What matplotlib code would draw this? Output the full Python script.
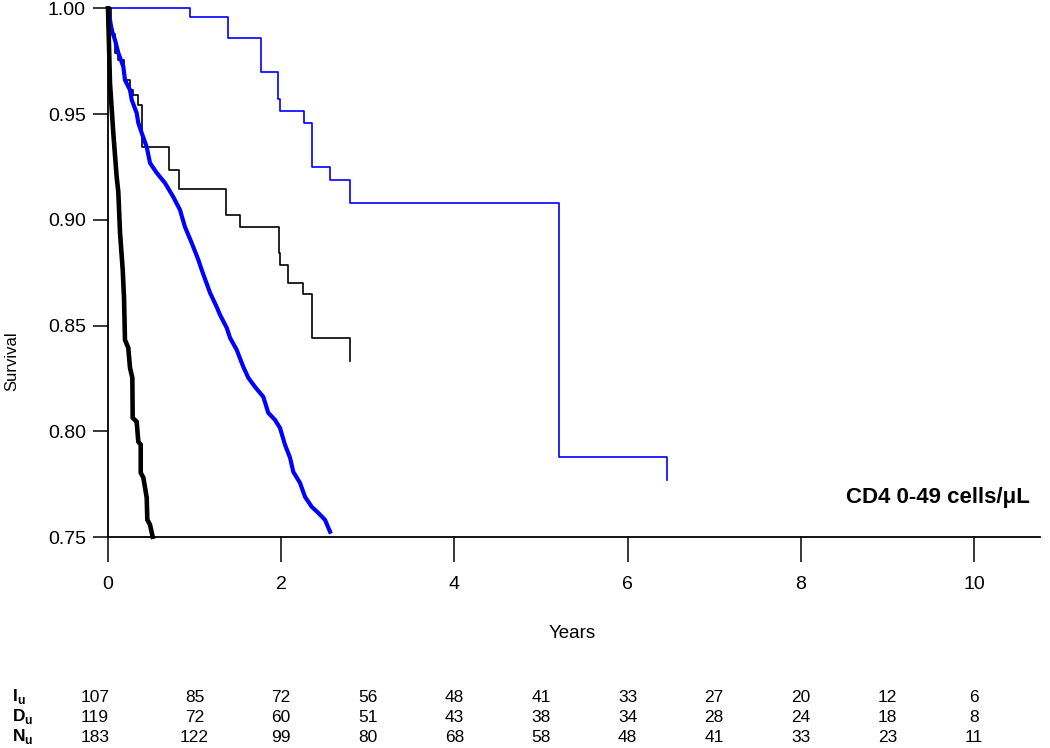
import matplotlib
matplotlib.use("Agg")
import matplotlib.pyplot as plt
from matplotlib.transforms import blended_transform_factory

plt.rcParams['font.family'] = ['Liberation Sans', 'DejaVu Sans']
plt.rcParams['mathtext.fontset'] = 'custom'
plt.rcParams['mathtext.rm'] = 'Liberation Sans'
plt.rcParams['mathtext.bf'] = 'Liberation Sans:bold'

# ---- data ----
# thin blue step curve
blue_thin_t = [0.0, 0.95, 1.39, 1.77, 1.96, 1.99, 2.26, 2.36, 2.56, 2.79, 5.21, 6.46]
blue_thin_s = [1.0, 0.9957, 0.9858, 0.9698, 0.957, 0.9513, 0.9457, 0.925, 0.919, 0.908, 0.788, 0.777]
blue_thin_end = 6.46

# thin black step curve
black_thin_t = [0.0, 0.03, 0.06, 0.08, 0.12, 0.18, 0.25, 0.29, 0.35, 0.39, 0.71, 0.82,
                1.36, 1.52, 1.97, 1.99, 2.08, 2.25, 2.36, 2.79]
black_thin_s = [1.0, 0.99, 0.988, 0.9787, 0.9756, 0.966, 0.9614, 0.959, 0.9543, 0.9346,
                0.9236, 0.9145, 0.9023, 0.8968, 0.8842, 0.8787, 0.870, 0.8647, 0.8442, 0.8331]
black_thin_end = 2.79

# thick black curve
black_thick_t = [0.0, 0.023, 0.061, 0.100, 0.119, 0.139, 0.170, 0.185, 0.196, 0.234, 0.254,
                 0.281, 0.285, 0.331, 0.350, 0.378, 0.378, 0.408, 0.447, 0.454, 0.485, 0.516]
black_thick_s = [1.0, 0.9647, 0.9411, 0.9203, 0.9132, 0.8938, 0.8763, 0.8630, 0.8432, 0.8395,
                 0.8300, 0.8253, 0.8064, 0.8045, 0.7951, 0.7936, 0.7804, 0.7781, 0.7686,
                 0.7582, 0.7558, 0.7501]

# thick blue curve
blue_thick_t = [0.0, 0.043, 0.081, 0.119, 0.177, 0.196, 0.254, 0.274, 0.331, 0.350, 0.389,
                0.447, 0.485, 0.562, 0.658, 0.754, 0.831, 0.889, 0.966, 1.043, 1.082, 1.178,
                1.255, 1.293, 1.371, 1.409, 1.486, 1.562, 1.620, 1.697, 1.793, 1.851, 1.928,
                1.986, 2.044, 2.102, 2.140, 2.217, 2.275, 2.352, 2.428, 2.506, 2.564]
blue_thick_s = [1.0, 0.9897, 0.9850, 0.9789, 0.9724, 0.9661, 0.9614, 0.9567, 0.9505, 0.9458,
                0.9411, 0.9344, 0.9269, 0.9222, 0.9174, 0.9108, 0.9047, 0.8966, 0.8891,
                0.8811, 0.8763, 0.8655, 0.8588, 0.8551, 0.8489, 0.8442, 0.8385, 0.8305,
                0.8253, 0.8210, 0.8163, 0.8087, 0.8054, 0.8016, 0.7936, 0.7875, 0.7808,
                0.7756, 0.7690, 0.7643, 0.7614, 0.7581, 0.7525]

# numbers at risk
risk_years = [0, 1, 2, 3, 4, 5, 6, 7, 8, 9, 10]
risk_I = [107, 85, 72, 56, 48, 41, 33, 27, 20, 12, 6]
risk_D = [119, 72, 60, 51, 43, 38, 34, 28, 24, 18, 8]
risk_N = [183, 122, 99, 80, 68, 58, 48, 41, 33, 23, 11]
risk_labels = [r'$\mathbf{I}_{\mathbf{u}}$', r'$\mathbf{D}_{\mathbf{u}}$', r'$\mathbf{N}_{\mathbf{u}}$']

x_ticks = [0, 2, 4, 6, 8, 10]
y_ticks = [0.75, 0.80, 0.85, 0.90, 0.95, 1.00]

# ---- figure ----
W, H = 1050, 748
fig = plt.figure(figsize=(W / 100, H / 100), dpi=100)
ax = fig.add_axes([108 / W, 1 - 537 / H, (1040 - 108) / W, (537 - 8.3) / H])

ax.step(blue_thin_t + [blue_thin_end], blue_thin_s + [blue_thin_s[-1]], where='post',
        color='#0000ff', lw=1.2, clip_on=False, zorder=3)
ax.step(black_thin_t + [black_thin_end], black_thin_s + [black_thin_s[-1]], where='post',
        color='black', lw=1.2, clip_on=False, zorder=3)
ax.plot(blue_thick_t, blue_thick_s, color='#0000ff', lw=3.0, clip_on=False, zorder=4,
        solid_joinstyle='miter')
ax.plot(black_thick_t, black_thick_s, color='black', lw=3.3, clip_on=False, zorder=5,
        solid_joinstyle='miter')

ax.set_xlim(0, (1040 - 108) / 86.6)
ax.set_ylim(0.75, 1.0)
ax.set_xticks(x_ticks)
ax.set_yticks(y_ticks)
ax.set_yticklabels([f'{v:.2f}' for v in y_ticks])
for s in ['top', 'right']:
    ax.spines[s].set_visible(False)
for s in ['left', 'bottom']:
    ax.spines[s].set_linewidth(1.3)
ax.tick_params(axis='y', direction='out', length=11, width=1.1, pad=5, labelsize=14)
ax.tick_params(axis='x', direction='out', length=18, width=1.1, pad=10, labelsize=14)

fig.text(12 / W, 1 - 361 / H, 'Survival', rotation=90, ha='center', va='center', fontsize=12)
fig.text(572 / W, 1 - 634 / H, 'Years', ha='center', va='center', fontsize=13.5)
fig.text(1030 / W, 1 - 497 / H, 'CD4 0-49 cells/μL', ha='right', va='center',
         fontsize=16, fontweight='bold')

tr = blended_transform_factory(ax.transData, fig.transFigure)
row_y = [697, 717, 737]
for lab, vals, yy in zip(risk_labels, [risk_I, risk_D, risk_N], row_y):
    fig.text(12 / W, 1 - yy / H, lab, ha='left', va='center', fontsize=12.5)
    for i, (yr, v) in enumerate(zip(risk_years, vals)):
        xo = -0.15 if i == 0 else 0.0
        ax.text(yr + xo, 1 - yy / H, str(v), transform=tr, ha='center', va='center',
                fontsize=12.5)

fig.savefig('out.png', dpi=100)
